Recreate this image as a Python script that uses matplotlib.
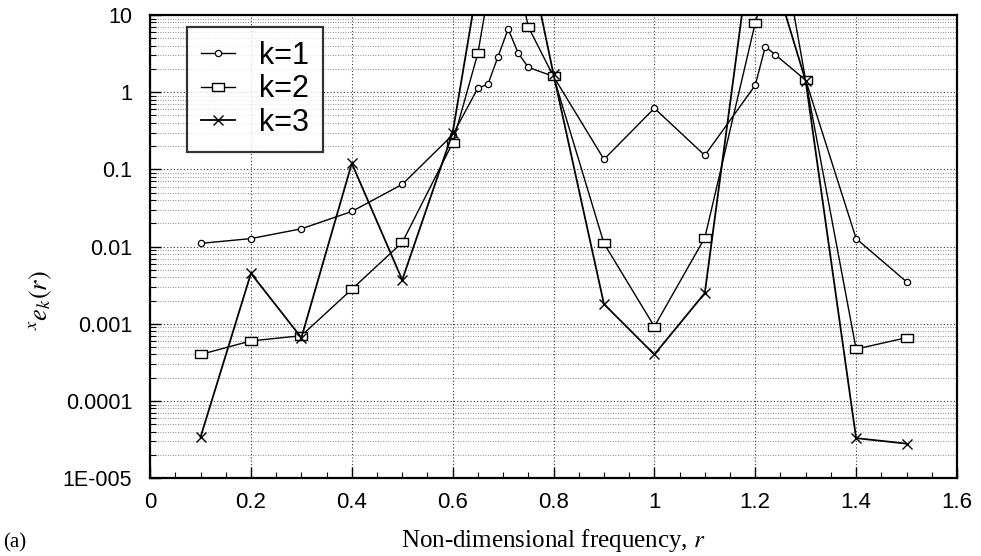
import matplotlib
matplotlib.use("Agg")
import matplotlib.pyplot as plt
from matplotlib.ticker import FixedLocator, LogLocator, MultipleLocator, NullFormatter

plt.rcParams["mathtext.fontset"] = "stix"

# k=1 : finely sampled near the two resonances
x1 = [0.1, 0.2, 0.3, 0.4, 0.5, 0.6, 0.65, 0.67, 0.69, 0.71, 0.73, 0.75, 0.8,
      0.9, 1.0, 1.1, 1.2, 1.22, 1.24, 1.3, 1.4, 1.5]
y1 = [0.011, 0.0127, 0.017, 0.0285, 0.064, 0.28, 1.13, 1.27, 2.9, 6.6, 3.2, 2.1, 1.6,
      0.135, 0.62, 0.152, 1.23, 3.9, 3.05, 1.43, 0.0127, 0.0035]

# k=2
x2 = [0.1, 0.2, 0.3, 0.4, 0.5, 0.6, 0.65, 0.7, 0.75, 0.8,
      0.9, 1.0, 1.1, 1.2, 1.25, 1.3, 1.4, 1.5]
y2 = [4.0e-4, 6.0e-4, 7.0e-4, 2.8e-3, 0.0113, 0.22, 3.2, 250, 7.0, 1.6,
      0.011, 9.2e-4, 0.013, 7.9, 100, 1.43, 4.7e-4, 6.6e-4]

# k=3
x3 = [0.1, 0.2, 0.3, 0.4, 0.5, 0.6, 0.7, 0.8,
      0.9, 1.0, 1.1, 1.2, 1.3, 1.4, 1.5]
y3 = [3.4e-5, 4.5e-3, 6.6e-4, 0.12, 3.7e-3, 0.30, 2300, 1.7,
      1.8e-3, 4.0e-4, 2.5e-3, 200, 1.4, 3.3e-5, 2.8e-5]

ytick_vals = [1e-5, 1e-4, 1e-3, 1e-2, 1e-1, 1, 10]
ytick_labels = ["1E-005", "0.0001", "0.001", "0.01", "0.1", "1", "10"]
xtick_vals = [0, 0.2, 0.4, 0.6, 0.8, 1.0, 1.2, 1.4, 1.6]
xtick_labels = ["0", "0.2", "0.4", "0.6", "0.8", "1", "1.2", "1.4", "1.6"]

fig = plt.figure(figsize=(9.81, 5.56), dpi=100)
ax = fig.add_axes([0.153, 0.140, 0.8225, 0.833])

# wide rectangle marker used for k=2
rect = [(-1.4, -1), (1.4, -1), (1.4, 1), (-1.4, 1), (-1.4, -1)]

ax.plot(x1, y1, color="black", lw=1.0, marker="o", ms=4.5, mfc="white",
        mec="black", mew=0.9, label="k=1")
ax.plot(x2, y2, color="black", lw=1.0, marker=rect, ms=9, mfc="white",
        mec="black", mew=1.0, label="k=2")
ax.plot(x3, y3, color="black", lw=1.3, marker="x", ms=7, mec="black",
        mew=1.0, label="k=3")

ax.set_yscale("log")
ax.set_xlim(0, 1.6)
ax.set_ylim(1e-5, 10)

ax.yaxis.set_major_locator(FixedLocator(ytick_vals))
ax.set_yticklabels(ytick_labels, family="Liberation Sans", fontsize=15.5)
ax.yaxis.set_minor_locator(LogLocator(base=10, subs=range(2, 10)))
ax.yaxis.set_minor_formatter(NullFormatter())
ax.set_xticks(xtick_vals)
ax.set_xticklabels(xtick_labels, family="Liberation Sans", fontsize=16)
ax.xaxis.set_minor_locator(MultipleLocator(0.05))

ax.tick_params(which="both", direction="in", color="black")
ax.tick_params(which="major", length=8, width=1.0)
ax.tick_params(which="minor", length=4, width=0.8)
ax.tick_params(axis="y", which="major", pad=13)
ax.tick_params(axis="x", which="major", pad=10)

ax.grid(True, which="major", axis="both", color="0.2", lw=0.8, ls=(0, (1, 2)))
ax.grid(True, which="minor", axis="y", color="0.4", lw=0.6, ls=(0, (1, 2)))

for s in ax.spines.values():
    s.set_linewidth(1.6)

ax.set_xlabel("Non-dimensional frequency, $r$", family="Liberation Serif",
              fontsize=18, labelpad=10)
fig.text(0.042, 0.46, r"$^{x}e_{k}(r)$", rotation=90, fontsize=19,
         ha="center", va="center")
fig.text(0.003, 0.016, "(a)", family="Liberation Serif", fontsize=15)

leg = ax.legend(loc="upper left", bbox_to_anchor=(0.046, 0.974), borderaxespad=0,
                frameon=True, fancybox=False, edgecolor="black",
                handlelength=1.1, handletextpad=0.8, borderpad=0.45,
                labelspacing=0.12, prop={"family": "Liberation Sans", "size": 22})
leg.get_frame().set_linewidth(1.6)

fig.savefig("out.png", dpi=100)
